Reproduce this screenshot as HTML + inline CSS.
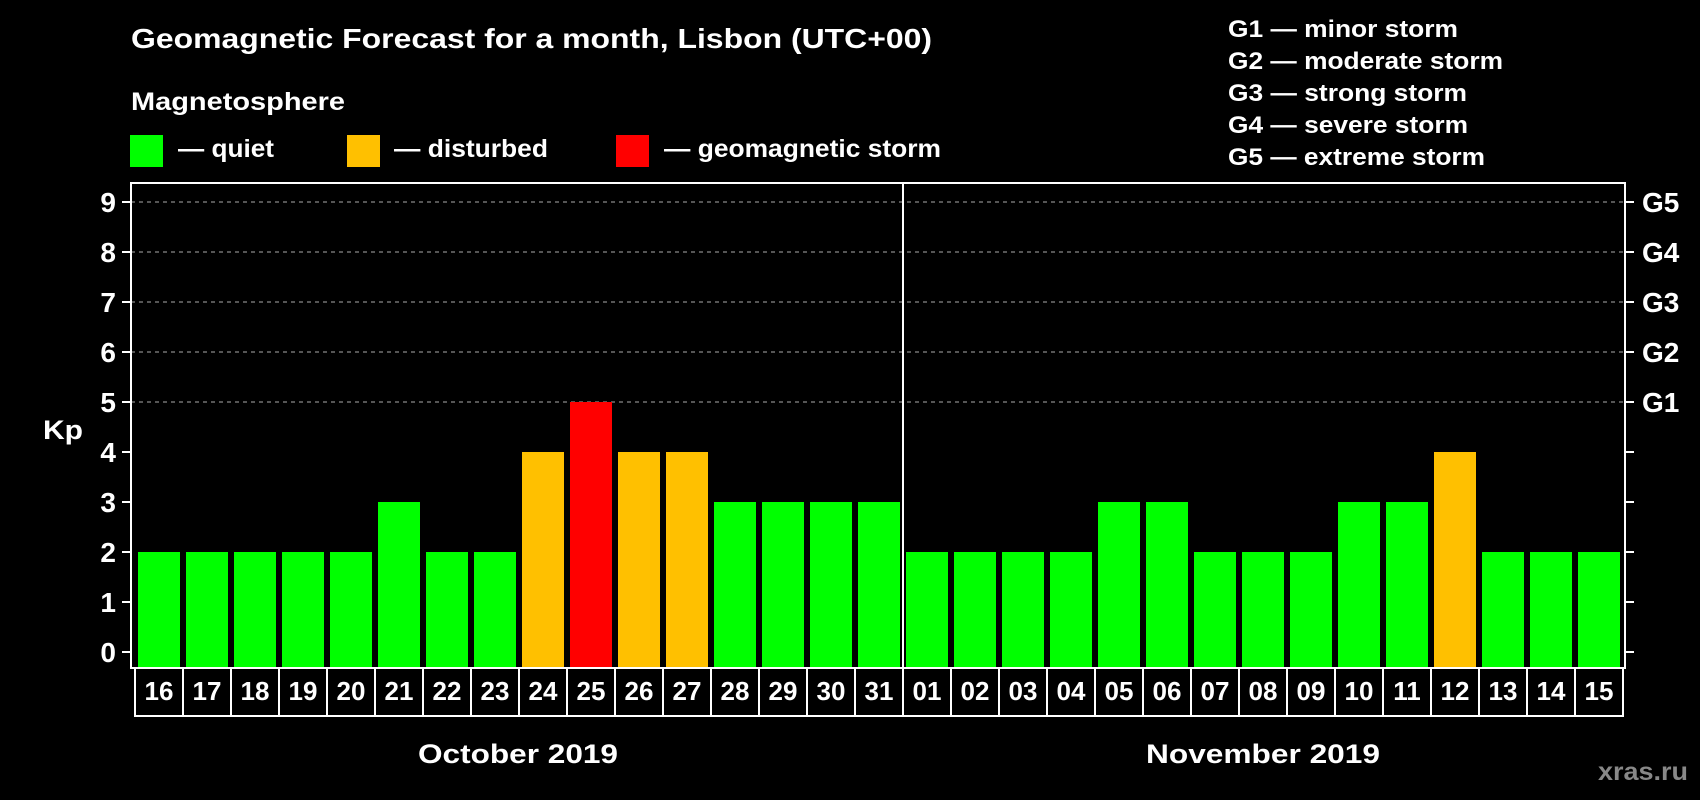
<!DOCTYPE html>
<html><head><meta charset="utf-8"><style>
html,body{margin:0;padding:0;background:#000;width:1700px;height:800px;overflow:hidden}
svg{display:block;font-family:"Liberation Sans",Arial,sans-serif;font-weight:bold}
</style></head><body>
<svg id="chart" width="1700" height="800" viewBox="0 0 1700 800">
<rect width="1700" height="800" fill="#000"/>
<text x="131" y="48" fill="#fff" font-size="28" textLength="801" lengthAdjust="spacingAndGlyphs">Geomagnetic Forecast for a month, Lisbon (UTC+00)</text>
<text x="131" y="110" fill="#fff" font-size="25" textLength="214" lengthAdjust="spacingAndGlyphs">Magnetosphere</text>
<g><rect x="130" y="135" width="33" height="32" fill="#00ff00"/><text x="178" y="157" fill="#fff" font-size="25" textLength="96" lengthAdjust="spacingAndGlyphs">— quiet</text></g>
<g><rect x="347" y="135" width="33" height="32" fill="#ffc000"/><text x="394" y="157" fill="#fff" font-size="25" textLength="154" lengthAdjust="spacingAndGlyphs">— disturbed</text></g>
<g><rect x="616" y="135" width="33" height="32" fill="#ff0000"/><text x="664" y="157" fill="#fff" font-size="25" textLength="277" lengthAdjust="spacingAndGlyphs">— geomagnetic storm</text></g>
<g fill="#fff" font-size="24">
<text x="1228" y="37" textLength="230" lengthAdjust="spacingAndGlyphs">G1 — minor storm</text>
<text x="1228" y="69" textLength="275" lengthAdjust="spacingAndGlyphs">G2 — moderate storm</text>
<text x="1228" y="101" textLength="239" lengthAdjust="spacingAndGlyphs">G3 — strong storm</text>
<text x="1228" y="133" textLength="240" lengthAdjust="spacingAndGlyphs">G4 — severe storm</text>
<text x="1228" y="165" textLength="257" lengthAdjust="spacingAndGlyphs">G5 — extreme storm</text>
</g>
<text x="43" y="439" fill="#fff" font-size="27" textLength="40" lengthAdjust="spacingAndGlyphs">Kp</text>
<text x="418" y="763" fill="#fff" font-size="27" textLength="200" lengthAdjust="spacingAndGlyphs">October 2019</text>
<text x="1146" y="763" fill="#fff" font-size="27" textLength="234" lengthAdjust="spacingAndGlyphs">November 2019</text>
<text x="1598" y="780" fill="#888" font-size="25" textLength="90" lengthAdjust="spacingAndGlyphs">xras.ru</text>
<g id="plot"></g>
</svg>
<script>
const days = ["16","17","18","19","20","21","22","23","24","25","26","27","28","29","30","31","01","02","03","04","05","06","07","08","09","10","11","12","13","14","15"];
const kpValues = [2,2,2,2,2,3,2,2,4,5,4,4,3,3,3,3,2,2,2,2,3,3,2,2,2,3,3,4,2,2,2];
const yTicks = [0,1,2,3,4,5,6,7,8,9];
const gLabels = ["","","","","","G1","G2","G3","G4","G5"];
const NS="http://www.w3.org/2000/svg";
const g=document.getElementById('plot');
const L=131,R=1625,T=183,B=668,y0=652,unit=50,x0=138,step=48,bw=42;
const yS=v=>y0-v*unit;
const xS=i=>x0+i*step;
function mk(t,a){const e=document.createElementNS(NS,t);for(const k in a)e.setAttribute(k,a[k]);g.appendChild(e);return e;}
yTicks.forEach((v,i)=>{
  const y=yS(v);
  if(v>=5){const gl=mk('line',{x1:L,x2:R,y1:y,y2:y,stroke:'#aaa','stroke-width':1,'stroke-dasharray':'4,4'});
  
  }
  const t1=mk('line',{x1:122,x2:L,y1:y,y2:y,stroke:'#fff','stroke-width':2});
  
  
  const t2=mk('line',{x1:R,x2:1634,y1:y,y2:y,stroke:'#fff','stroke-width':2});
  
  
  const lb=mk('text',{x:116,y:y+10,fill:'#fff','font-size':28,'text-anchor':'end'});lb.textContent=v;
  
  
  if(gLabels[i]){const gt=mk('text',{x:1642,y:y+10,fill:'#fff','font-size':28});gt.textContent=gLabels[i];
  
  }
});
kpValues.forEach((v,i)=>{
  const col=v>=5?'#ff0000':(v>=4?'#ffc000':'#00ff00');
  const b=mk('rect',{x:xS(i),y:yS(v),width:bw,height:B-1-yS(v),fill:col});
  
  
  const bx=mk('rect',{x:xS(i)-3,y:B,width:step,height:48,fill:'none',stroke:'#fff','stroke-width':2});
  
  
  const t=mk('text',{x:xS(i)+bw/2,y:700,fill:'#fff','font-size':26,'text-anchor':'middle'});t.textContent=days[i];
  
  
});
const fr=mk('rect',{x:L,y:T,width:R-L,height:B-T,fill:'none',stroke:'#fff','stroke-width':2});


const dv=mk('line',{x1:xS(16)-3,x2:xS(16)-3,y1:T,y2:B,stroke:'#fff','stroke-width':2});


</script>
</body></html>
